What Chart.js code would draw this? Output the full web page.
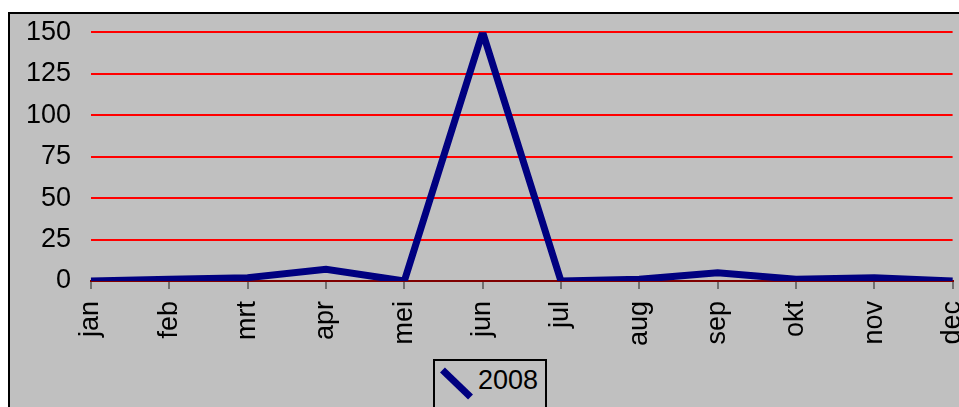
<!DOCTYPE html>
<html lang="nl">
<head>
    <meta charset="UTF-8">
    <title>2008</title>
    <script src="https://cdn.jsdelivr.net/npm/chart.js"></script>
    <style>
        html, body { margin: 0; padding: 0; background: #fff; overflow: hidden; width: 959px; height: 407px; }
        #box {
            position: absolute; left: 8px; top: 12px; width: 1000px; height: 420px;
            background: #c0c0c0; border-left: 2px solid #000; border-top: 2px solid #000;
        }
        #chart { position: absolute; left: 0; top: -18px; }
        #legend {
            position: absolute; left: 423px; top: 345px; width: 110px; height: 70px;
            border: 2px solid #000; background: #c0c0c0;
            font-family: "Liberation Sans", Arial, sans-serif; font-size: 27px; line-height: 1;
        }
        #legend .mark {
            position: absolute; left: 2px; top: 19px; width: 39px; height: 7px;
            background: #000080; transform: rotate(44deg);
        }
        #legend .txt { position: absolute; left: 43px; top: 6px; color: #000; }
    </style>
</head>
<body>
<div id="box">
    <canvas id="chart" width="987" height="405"></canvas>
    <div id="legend"><div class="mark"></div><span class="txt" id="legendText"></span></div>
</div>

<script>
    const months = ['jan', 'feb', 'mrt', 'apr', 'mei', 'jun', 'jul', 'aug', 'sep', 'okt', 'nov', 'dec'];
    const values2008 = [0, 1, 2, 7, 0, 150, 0, 1, 5, 1, 2, 0];
    const seriesName = '2008';
    const yTicks = [0, 25, 50, 75, 100, 125, 150];

    document.getElementById('legendText').textContent = seriesName;

    const font = { family: '"Liberation Sans", Arial, sans-serif', size: 27 };

    new Chart(document.getElementById('chart'), {
        type: 'line',
        data: {
            labels: months,
            datasets: [{
                label: seriesName,
                data: values2008,
                borderColor: '#000080',
                borderWidth: 7,
                pointRadius: 0,
                tension: 0,
                fill: false
            }]
        },
        options: {
            responsive: false,
            animation: false,
            layout: { padding: { top: 5, right: 0, left: 0, bottom: 0 } },
            plugins: { legend: { display: false }, tooltip: { enabled: false } },
            scales: {
                x: {
                    offset: false,
                    grid: { drawOnChartArea: false, drawTicks: true, tickLength: 8, color: '#707070', lineWidth: 2 },
                    border: { display: true, color: '#800000', width: 2 },
                    ticks: { color: '#000', font: font, minRotation: 90, maxRotation: 90, padding: 12, autoSkip: false },
                    afterFit: s => { s.height = 120; }
                },
                y: {
                    min: yTicks[0],
                    max: yTicks[yTicks.length - 1],
                    ticks: { stepSize: 25, color: '#000', font: font, padding: 20 },
                    grid: { color: '#ff0000', lineWidth: 2, drawTicks: false },
                    border: { display: false },
                    afterFit: s => { s.width = 81; }
                }
            }
        }
    });
</script>
</body>
</html>
